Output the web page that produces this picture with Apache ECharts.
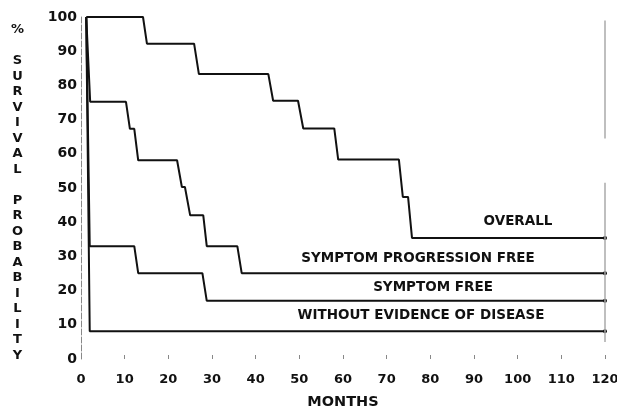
<!DOCTYPE html>
<html>
<head>
<meta charset="utf-8">
<script src="https://cdn.jsdelivr.net/npm/echarts@6/dist/echarts.min.js"></script>
<style>
html,body{margin:0;padding:0;background:#fff;}
#chart{width:617px;height:409px;}
</style>
</head>
<body>
<div id="chart"></div>
<script>
// Months (x) and survival probability (%) for each curve
var overallMonths = [1.2, 14.2, 15.1, 25.9, 27.0, 42.9, 44.0, 49.7, 50.9, 58.0, 58.9, 72.8, 73.7, 74.9, 75.8, 120];
var overallPct    = [100, 100, 92.2, 92.2, 83.3, 83.3, 75.5, 75.5, 67.4, 67.4, 58.3, 58.3, 47.4, 47.4, 35.4, 35.4];

var progFreeMonths = [1.2, 2.1, 10.3, 11.2, 12.2, 13.1, 22.0, 23.1, 23.8, 25.0, 28.0, 28.8, 35.8, 36.8, 120];
var progFreePct    = [100, 75.2, 75.2, 67.3, 67.3, 58.1, 58.1, 50.3, 50.3, 42.0, 42.0, 33.0, 33.0, 25.1, 25.1];

var symFreeMonths = [1.2, 2.0, 12.2, 13.1, 27.8, 28.8, 120];
var symFreePct    = [100, 33.0, 33.0, 25.1, 25.1, 17.0, 17.0];

var nedMonths = [1.2, 2.0, 120];
var nedPct    = [100, 8.1, 8.1];

var xTicks = [0, 10, 20, 30, 40, 50, 60, 70, 80, 90, 100, 110, 120];
var yTicks = [0, 10, 20, 30, 40, 50, 60, 70, 80, 90, 100];

var curveNames = ['OVERALL', 'SYMPTOM PROGRESSION FREE', 'SYMPTOM FREE', 'WITHOUT EVIDENCE OF DISEASE'];
var yAxisTitle = '% SURVIVAL PROBABILITY';
var xAxisTitle = 'MONTHS';

function pairs(xs, ys) {
  return xs.map(function (x, i) {
    if (i === xs.length - 1) {
      return { value: [x, ys[i]], symbol: 'circle', symbolSize: 4 };
    }
    return { value: [x, ys[i]] };
  });
}

var FONT = 'DejaVu Sans';
var INK = '#111';

function lineSeries(name, xs, ys) {
  return {
    name: name,
    type: 'line',
    data: pairs(xs, ys),
    showSymbol: true,
    symbol: 'none',
    itemStyle: { color: INK },
    lineStyle: { color: INK, width: 2 },
    animation: false,
    z: 3
  };
}

// vertical y-title built from letters
var words = yAxisTitle.split(' ');
var stacked = words.map(function (w) { return w.split('').join('\n'); }).join('\n\n');

var chart = echarts.init(document.getElementById('chart'), null, { renderer: 'canvas' });
var series = [
  lineSeries(curveNames[0], overallMonths, overallPct),
  lineSeries(curveNames[1], progFreeMonths, progFreePct),
  lineSeries(curveNames[2], symFreeMonths, symFreePct),
  lineSeries(curveNames[3], nedMonths, nedPct)
];
series[0].markLine = {
  silent: true,
  symbol: 'none',
  label: { show: false },
  lineStyle: { color: '#aaa', width: 1.5, type: 'solid' },
  data: [
    [{ coord: [120, 5] }, { coord: [120, 51.5] }],
    [{ coord: [120, 64.5] }, { coord: [120, 99] }]
  ]
};

var labelFont = 'bold 13.5px ' + FONT;

chart.setOption({
  backgroundColor: '#fff',
  animation: false,
  grid: { left: 81, right: 12, top: 17, bottom: 50, containLabel: false, outerBoundsMode: 'none' },
  xAxis: {
    type: 'value',
    min: 0, max: 120, interval: 10,
    name: xAxisTitle,
    nameLocation: 'middle',
    nameGap: 36,
    nameTextStyle: { fontFamily: FONT, fontWeight: 'bold', fontSize: 14.5, color: INK },
    axisLine: { show: false },
    axisTick: { show: true, inside: true, length: 4, lineStyle: { color: '#888', width: 1 } },
    axisLabel: {
      fontFamily: FONT, fontWeight: 'bold', fontSize: 13, color: INK, margin: 14,
      formatter: function (v) { return xTicks.indexOf(v) >= 0 ? String(v) : ''; }
    },
    splitLine: { show: false }
  },
  yAxis: {
    type: 'value',
    min: 0, max: 100, interval: 10,
    axisLine: { show: true, onZero: false, lineStyle: { color: '#888', width: 1, type: [6, 2] } },
    axisTick: { show: false },
    axisLabel: {
      fontFamily: FONT, fontWeight: 'bold', fontSize: 14, color: INK, margin: 4,
      formatter: function (v) { return yTicks.indexOf(v) >= 0 ? String(v) : ''; }
    },
    splitLine: { show: false }
  },
  graphic: [
    { type: 'text', left: 11, top: 22, style: { text: stacked, font: 'bold 13px ' + FONT, fill: INK, textAlign: 'center', lineHeight: 15.5 } },
    { type: 'text', x: 518, y: 221, style: { text: curveNames[0], font: labelFont, fill: INK, textAlign: 'center', textVerticalAlign: 'middle' } },
    { type: 'text', x: 418, y: 258, style: { text: curveNames[1], font: labelFont, fill: INK, textAlign: 'center', textVerticalAlign: 'middle' } },
    { type: 'text', x: 433, y: 287, style: { text: curveNames[2], font: labelFont, fill: INK, textAlign: 'center', textVerticalAlign: 'middle' } },
    { type: 'text', x: 421, y: 315, style: { text: curveNames[3], font: labelFont, fill: INK, textAlign: 'center', textVerticalAlign: 'middle' } }
  ],
  series: series
});
</script>
</body>
</html>
